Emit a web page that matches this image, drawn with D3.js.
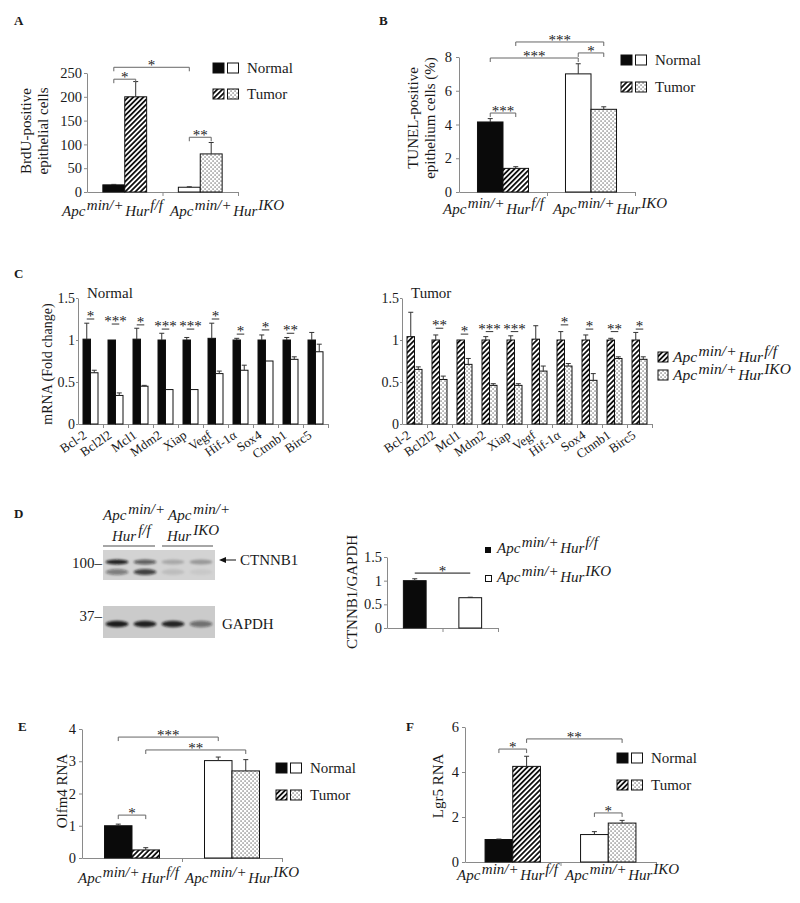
<!DOCTYPE html>
<html>
<head>
<meta charset="utf-8">
<title>HuR figure</title>
<script src="https://cdn.jsdelivr.net/npm/d3@7"></script>
<style>
body { margin: 0; background: #fff; }
text { font-family: "Liberation Serif", "Times New Roman", serif; fill: #1a1a1a; }
.axis path, .axis line { stroke: #8a8a8a; }
.axis text { font-family: "Liberation Serif", serif; font-size: 14.5px; fill: #1a1a1a; }
</style>
</head>
<body>
<script>
// ---- data (bar order: f/f normal, f/f tumor, IKO normal, IKO tumor) ----
var legendRows = ["Normal", "Tumor"];
var brduMean = [15, 200, 10, 80];
var brduSem = [1, 32, 1, 24];
var brduTicks = [0, 50, 100, 150, 200, 250];
var brduSig = [[0, 1, 237, "*"], [0, 2, 262, "*"], [2, 3, 115, "**"]];

var tunelMean = [4.15, 1.4, 7.0, 4.9];
var tunelSem = [0.2, 0.1, 0.6, 0.15];
var tunelTicks = [0, 2, 4, 6, 8];
var tunelSig = [[0, 1, 4.68, "***"], [0, 2, 7.94, "***"], [2, 3, 8.24, "*"], [1, 3, 8.89, "***"]];

var genes = ["Bcl-2", "Bcl2l2", "Mcl1", "Mdm2", "Xiap", "Vegf", "Hif-1\u03b1", "Sox4", "Ctnnb1", "Birc5"];
var foldTicks = [0, 0.5, 1, 1.5];
var normalFF = [1.01, 1.0, 1.01, 1.0, 1.0, 1.02, 1.0, 1.0, 1.0, 1.0];
var normalFFSem = [0.19, 0.0, 0.13, 0.08, 0.03, 0.18, 0.02, 0.06, 0.03, 0.09];
var normalKO = [0.61, 0.34, 0.45, 0.41, 0.41, 0.60, 0.64, 0.75, 0.77, 0.86];
var normalKOSem = [0.03, 0.03, 0.01, 0.0, 0.0, 0.03, 0.06, 0.0, 0.03, 0.09];
var normalStars = ["*", "***", "*", "***", "***", "*", "*", "*", "**", ""];
var normalStarH = [1.25, 1.19, 1.18, 1.13, 1.13, 1.25, 1.07, 1.12, 1.08, 0];
var tumorFF = [1.04, 1.0, 1.0, 1.0, 1.0, 1.01, 1.0, 1.0, 1.0, 1.0];
var tumorFFSem = [0.29, 0.06, 0.0, 0.04, 0.05, 0.16, 0.1, 0.06, 0.02, 0.09];
var tumorKO = [0.65, 0.53, 0.71, 0.46, 0.46, 0.63, 0.69, 0.52, 0.78, 0.77];
var tumorKOSem = [0.03, 0.04, 0.07, 0.02, 0.02, 0.06, 0.03, 0.08, 0.02, 0.03];
var tumorStars = ["", "**", "*", "***", "***", "", "*", "*", "**", "*"];
var tumorStarH = [0, 1.14, 1.07, 1.1, 1.1, 0, 1.18, 1.13, 1.1, 1.13];

var ctnnb1Mean = [1.0, 0.64];
var ctnnb1Sem = [0.04, 0.01];
var ctnnb1Sig = [[0, 1, 1.16, "*"]];
var ctnnb1Band = [0.9, 0.6, 0.2, 0.28];
var ctnnb1Lower = [0.45, 0.75, 0.1, 0.05];
var gapdhBand = [0.92, 0.9, 0.88, 0.5];

var olfm4Mean = [1.0, 0.25, 3.02, 2.7];
var olfm4Sem = [0.05, 0.07, 0.11, 0.35];
var olfm4Ticks = [0, 1, 2, 3, 4];
var olfm4Sig = [[0, 1, 1.33, "*"], [0, 2, 3.75, "***"], [1, 3, 3.35, "**"]];

var lgr5Mean = [1.0, 4.25, 1.22, 1.73];
var lgr5Sem = [0.02, 0.45, 0.13, 0.12];
var lgr5Ticks = [0, 2, 4, 6];
var lgr5Sig = [[0, 1, 5.02, "*"], [1, 3, 5.47, "**"], [2, 3, 2.18, "*"]];

// ---- drawing ----
var svg = d3.select("body").append("svg").attr("width", 800).attr("height", 903);
var defs = svg.append("defs");

var hatch = defs.append("pattern").attr("id", "hatch").attr("patternUnits", "userSpaceOnUse")
	.attr("width", 3.6).attr("height", 3.6).attr("patternTransform", "rotate(45)");
hatch.append("rect").attr("width", 3.6).attr("height", 3.6).attr("fill", "#fff");
hatch.append("rect").attr("width", 1.8).attr("height", 3.6).attr("fill", "#111");

var dots = defs.append("pattern").attr("id", "dots").attr("patternUnits", "userSpaceOnUse")
	.attr("width", 4).attr("height", 4);
dots.append("rect").attr("width", 4).attr("height", 4).attr("fill", "#fff");
dots.append("rect").attr("x", 0.5).attr("y", 0.5).attr("width", 1.1).attr("height", 1.1).attr("fill", "#333");
dots.append("rect").attr("x", 2.5).attr("y", 2.5).attr("width", 1.1).attr("height", 1.1).attr("fill", "#333");

defs.append("filter").attr("id", "blur").append("feGaussianBlur").attr("stdDeviation", 1.3);

var BLACK = "#0a0a0a", WHITE = "#fff", HATCH = "url(#hatch)", DOTS = "url(#dots)";
var fourFills = [BLACK, HATCH, WHITE, DOTS];

function letter(x, y, s) {
	svg.append("text").attr("x", x).attr("y", y).attr("font-size", 13).attr("font-weight", "bold").text(s);
}

function apc(x, y, sup, size, anchor) {
	var t = svg.append("text").attr("x", x).attr("y", y).attr("font-size", size)
		.attr("font-style", "italic").attr("text-anchor", anchor || "start");
	t.append("tspan").text("Apc");
	t.append("tspan").attr("dx", 1.5).attr("dy", -size * 0.4).text("min/+");
	t.append("tspan").attr("dx", 1.5).attr("dy", size * 0.4).text("Hur");
	t.append("tspan").attr("dx", 1).attr("dy", -size * 0.4).text(sup);
	return t;
}

function ytitle(x, y, lines, size) {
	lines.forEach(function (s, i) {
		svg.append("text").attr("transform", "translate(" + (x + i * size * 1.1) + "," + y + ") rotate(-90)")
			.attr("text-anchor", "middle").attr("font-size", size).text(s);
	});
}

function panel(p) {
	var y = d3.scaleLinear().domain([0, p.max]).range([p.y0, p.y1]);
	var n = p.mean.length / p.per;
	var gx = d3.scaleBand().domain(d3.range(n)).range([p.x0, p.x1]);
	var inner = gx.bandwidth() * p.frac;
	var bx = d3.scaleBand().domain(d3.range(p.per)).range([0, inner]);
	var bars = p.mean.map(function (v, i) {
		return {v: v, e: p.sem[i], g: Math.floor(i / p.per), k: i % p.per, fill: p.fills[i % p.fills.length]};
	});
	var left = function (d) { return gx(d.g) + (gx.bandwidth() - inner) / 2 + bx(d.k); };
	var cx = function (i) { return left(bars[i]) + bx.bandwidth() / 2; };

	var ya = svg.append("g").attr("class", "axis").attr("transform", "translate(" + p.x0 + ",0)")
		.call(d3.axisLeft(y).tickValues(p.ticks).tickFormat(d3.format("")).tickSize(p.yTick || 3).tickSizeOuter(0).tickPadding(p.yPad || 3));
	if (p.tickFont) ya.selectAll("text").style("font-size", p.tickFont + "px");
	var xb = d3.scaleLinear().domain([0, n]).range([p.x0, p.x1]);
	svg.append("g").attr("class", "axis").attr("transform", "translate(0," + p.y0 + ")")
		.call(d3.axisBottom(xb).tickValues(d3.range(1, n + 1)).tickFormat("").tickSize(4).tickSizeOuter(0));

	svg.append("g").selectAll("rect").data(bars).enter().append("rect")
		.attr("x", left).attr("y", function (d) { return y(d.v); })
		.attr("width", bx.bandwidth()).attr("height", function (d) { return y(0) - y(d.v); })
		.attr("fill", function (d) { return d.fill; })
		.attr("stroke", "#111").attr("stroke-width", 1);

	var eb = svg.append("g").attr("stroke", "#333").attr("stroke-width", 1);
	bars.forEach(function (d, i) {
		if (d.e <= 0) return;
		var c = cx(i);
		eb.append("line").attr("x1", c).attr("x2", c).attr("y1", y(d.v)).attr("y2", y(d.v + d.e));
		eb.append("line").attr("x1", c - 2.5).attr("x2", c + 2.5).attr("y1", y(d.v + d.e)).attr("y2", y(d.v + d.e));
	});

	(p.sig || []).forEach(function (s) {
		var xa = cx(s[0]), xz = cx(s[1]), yy = y(s[2]);
		svg.append("path").attr("fill", "none").attr("stroke", p.sigColor || "#666").attr("stroke-width", 1)
			.attr("d", "M" + xa + "," + (yy + p.tick) + "V" + yy + "H" + xz + "V" + (yy + p.tick));
		svg.append("text").attr("x", (xa + xz) / 2).attr("y", yy + (p.starDy || 3))
			.attr("text-anchor", "middle").attr("font-size", p.starSize || 15).attr("fill", "#444").text(s[3]);
	});
	return {y: y, gx: gx, cx: cx};
}

function legend(x, y, gap, fills) {
	legendRows.forEach(function (name, r) {
		var yy = y + r * gap;
		fills[r].forEach(function (f, j) {
			svg.append("rect").attr("x", x + j * 14.5).attr("y", yy).attr("width", 11).attr("height", 10)
				.attr("fill", f).attr("stroke", "#111").attr("stroke-width", 1);
		});
		svg.append("text").attr("x", x + 34).attr("y", yy + 10).attr("font-size", 15).text(name);
	});
}
var legendFills = [[BLACK, WHITE], [HATCH, DOTS]];

// ---- A ----
letter(14, 25, "A");
panel({x0: 87, x1: 238, y0: 192, y1: 73, max: 250, ticks: brduTicks, mean: brduMean, sem: brduSem,
	per: 2, frac: 0.58, fills: fourFills, sig: brduSig, tick: 4, yPad: 2});
ytitle(31, 131, ["BrdU-positive", "epithelial cells"], 15);
legend(213, 63, 26, legendFills);
apc(62, 216, "f/f", 15);
apc(170, 216, "IKO", 15);

// ---- B ----
letter(379, 25, "B");
panel({x0: 459, x1: 635, y0: 192, y1: 57, max: 8, ticks: tunelTicks, mean: tunelMean, sem: tunelSem,
	per: 2, frac: 0.58, fills: fourFills, sig: tunelSig, tick: 4, yPad: 4});
ytitle(418, 118, ["TUNEL-positive", "epithelium cells (%)"], 15);
legend(621, 55, 27, legendFills);
apc(443, 214, "f/f", 15);
apc(553, 214, "IKO", 15);

// ---- C ----
letter(14, 278, "C");
function cPanel(x0, a, aSem, b, bSem, stars, starH, fills, title) {
	var mean = [], sem = [], sig = [];
	genes.forEach(function (g, i) {
		mean.push(a[i], b[i]);
		sem.push(aSem[i], bSem[i]);
		if (stars[i]) sig.push([2 * i, 2 * i + 1, starH[i], stars[i]]);
	});
	var c = panel({x0: x0, x1: x0 + 250, y0: 424, y1: 298, max: 1.5, ticks: foldTicks, mean: mean, sem: sem,
		per: 2, frac: 0.6, fills: fills, sig: sig, tick: 0, starDy: 2, starSize: 15, sigColor: "#333",
		yTick: 2, yPad: 1, tickFont: 14});
	svg.append("text").attr("x", x0 + 9).attr("y", 298).attr("font-size", 15).text(title);
	genes.forEach(function (g, i) {
		var gxc = c.gx(i) + c.gx.bandwidth() / 2 - 3;
		svg.append("text").attr("transform", "translate(" + gxc + ",437) rotate(-35)")
			.attr("text-anchor", "end").attr("font-size", 13).text(g);
	});
}
cPanel(78, normalFF, normalFFSem, normalKO, normalKOSem, normalStars, normalStarH, [BLACK, WHITE], "Normal");
cPanel(402, tumorFF, tumorFFSem, tumorKO, tumorKOSem, tumorStars, tumorStarH, [HATCH, DOTS], "Tumor");
ytitle(52, 364, ["mRNA (Fold change)"], 14);
svg.append("rect").attr("x", 658).attr("y", 352).attr("width", 10).attr("height", 10).attr("fill", HATCH).attr("stroke", "#111");
svg.append("rect").attr("x", 658).attr("y", 370).attr("width", 10).attr("height", 10).attr("fill", DOTS).attr("stroke", "#111");
apc(673, 362, "f/f", 15.5);
apc(673, 380, "IKO", 15.5);

// ---- D ----
letter(14, 518, "D");
var lanes = d3.scaleBand().domain(d3.range(4)).range([103, 215]);
svg.append("rect").attr("x", 103).attr("y", 550).attr("width", 112).attr("height", 30).attr("fill", "#d3d3d3");
svg.append("rect").attr("x", 103).attr("y", 606).attr("width", 112).attr("height", 32).attr("fill", "#cbcbcb");
var bands = svg.append("g").attr("filter", "url(#blur)");
[[ctnnb1Band, 562, 2.6], [ctnnb1Lower, 572, 3], [gapdhBand, 624, 3.2]].forEach(function (b) {
	b[0].forEach(function (v, i) {
		bands.append("ellipse").attr("cx", lanes(i) + lanes.bandwidth() / 2).attr("cy", b[1])
			.attr("rx", 11.5).attr("ry", b[2]).attr("fill", "#111").attr("opacity", v);
	});
});
[[103, "f/f", 112], [168, "IKO", 167]].forEach(function (l) {
	var t = svg.append("text").attr("x", l[0]).attr("y", 520).attr("font-size", 15).attr("font-style", "italic");
	t.append("tspan").text("Apc");
	t.append("tspan").attr("dx", 2).attr("dy", -6).text("min/+");
	var h = svg.append("text").attr("x", l[2]).attr("y", 541).attr("font-size", 15).attr("font-style", "italic");
	h.append("tspan").text("Hur");
	h.append("tspan").attr("dx", 2).attr("dy", -6).text(l[1]);
});
svg.append("line").attr("x1", 103).attr("x2", 155).attr("y1", 546).attr("y2", 546).attr("stroke", "#888").attr("stroke-width", 1.5);
svg.append("line").attr("x1", 162).attr("x2", 213).attr("y1", 546).attr("y2", 546).attr("stroke", "#888").attr("stroke-width", 1.5);
svg.append("text").attr("x", 102).attr("y", 568).attr("text-anchor", "end").attr("font-size", 15).text("100\u2013");
svg.append("text").attr("x", 102).attr("y", 621).attr("text-anchor", "end").attr("font-size", 15).text("37\u2013");
svg.append("line").attr("x1", 224).attr("x2", 236).attr("y1", 560).attr("y2", 560).attr("stroke", "#111");
svg.append("path").attr("d", "M219,560L226,557L226,563Z").attr("fill", "#111");
svg.append("text").attr("x", 240).attr("y", 565).attr("font-size", 15).text("CTNNB1");
svg.append("text").attr("x", 222).attr("y", 629).attr("font-size", 15).text("GAPDH");

panel({x0: 387, x1: 498, y0: 628, y1: 557, max: 1.5, ticks: foldTicks, mean: ctnnb1Mean, sem: ctnnb1Sem,
	per: 1, frac: 0.41, fills: [BLACK, WHITE], sig: ctnnb1Sig, tick: 0, starDy: 0, sigColor: "#111", yPad: 2});
ytitle(357, 592, ["CTNNB1/GAPDH"], 15);
svg.append("rect").attr("x", 485).attr("y", 547).attr("width", 6).attr("height", 6).attr("fill", BLACK);
svg.append("rect").attr("x", 485.5).attr("y", 575.5).attr("width", 6).attr("height", 6).attr("fill", WHITE).attr("stroke", "#111");
apc(497, 553, "f/f", 15);
apc(497, 582, "IKO", 15);

// ---- E ----
letter(18, 731, "E");
panel({x0: 82, x1: 282, y0: 858, y1: 729, max: 4, ticks: olfm4Ticks, mean: olfm4Mean, sem: olfm4Sem,
	per: 2, frac: 0.55, fills: fourFills, sig: olfm4Sig, tick: 4});
ytitle(67, 791, ["Olfm4 RNA"], 15);
legend(276, 763, 27, legendFills);
apc(78, 883, "f/f", 15);
apc(185, 883, "IKO", 15);

// ---- F ----
letter(406, 731, "F");
panel({x0: 465, x1: 656, y0: 862, y1: 727, max: 6, ticks: lgr5Ticks, mean: lgr5Mean, sem: lgr5Sem,
	per: 2, frac: 0.58, fills: fourFills, sig: lgr5Sig, tick: 4});
ytitle(443, 786, ["Lgr5 RNA"], 15);
legend(617, 753, 27, legendFills);
apc(457, 880, "f/f", 15);
apc(565, 880, "IKO", 15);
</script>
</body>
</html>
